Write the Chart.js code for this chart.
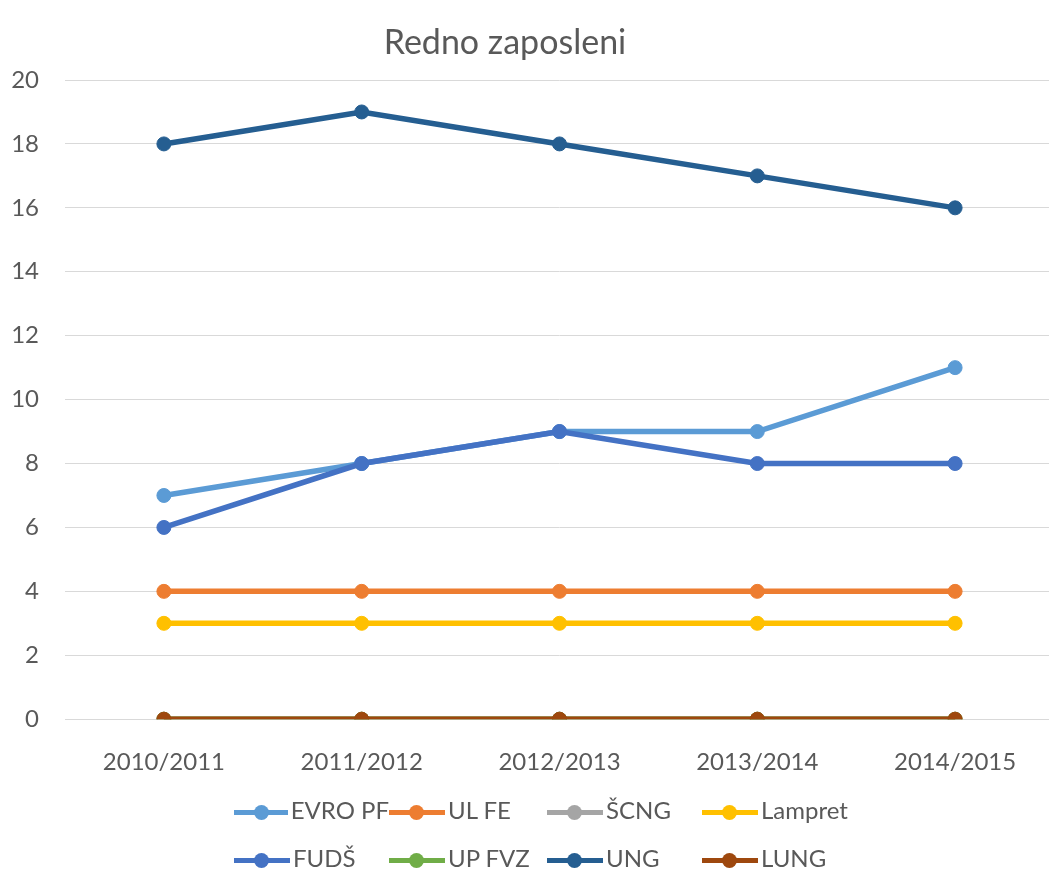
<!DOCTYPE html>
<html>
<head>
<meta charset="utf-8">
<title>Redno zaposleni</title>
<script src="https://cdn.jsdelivr.net/npm/chart.js@4.4.1/dist/chart.umd.min.js"></script>
<style>
  body { margin: 0; overflow: hidden; background: #fff; font-family: Lato, "Noto Sans", sans-serif; }
  #wrap { position: relative; width: 1062px; height: 871px; }
  #title {
    position: absolute; left: 0; top: 21px; width: 1010px;
    text-align: center; font-size: 34px; line-height: 1.2; color: #595959;
  }
  #legend {
    position: absolute; left: 234px; top: 796px;
    display: grid; grid-template-columns: 155px 158px 155px auto;
    row-gap: 19px;
  }
  .item { display: flex; align-items: center; height: 29px; font-size: 24px; line-height: 1.2; color: #595959; white-space: nowrap; }
  .mark { position: relative; width: 56px; height: 15px; margin-top: 4px; }
  .mark .ln { position: absolute; left: 0; right: 0; top: 5px; height: 5px; }
  .mark .dot { position: absolute; left: 20px; top: 0; width: 15px; height: 15px; border-radius: 50%; }
  .item span.txt { margin-left: 3px; }
</style>
</head>
<body>
<div id="wrap">
  <canvas id="chart" width="1062" height="871"></canvas>
  <div id="title">Redno zaposleni</div>
  <div id="legend"></div>
</div>
<script>
// podatki
let categories = ['2010/2011', '2011/2012', '2012/2013', '2013/2014', '2014/2015']
let evroPf  = [7, 8, 9, 9, 11]
let ulFe    = [4, 4, 4, 4, 4]
let scng    = [0, 0, 0, 0, 0]
let lampret = [3, 3, 3, 3, 3]
let fuds    = [6, 8, 9, 8, 8]
let upFvz   = [0, 0, 0, 0, 0]
let ung     = [18, 19, 18, 17, 16]
let lung    = [0, 0, 0, 0, 0]

let seriesNames  = ['EVRO PF', 'UL FE', 'ŠCNG', 'Lampret', 'FUDŠ', 'UP FVZ', 'UNG', 'LUNG']
let seriesValues = [evroPf, ulFe, scng, lampret, fuds, upFvz, ung, lung]
let seriesColors = ['#5B9BD5', '#ED7D31', '#A5A5A5', '#FFC000', '#4472C4', '#70AD47', '#255E91', '#9E480E']

let yMin = 0
let yMax = 20
let yStep = 2

let textColor = '#595959'
let fontFamily = 'Lato, "Noto Sans", sans-serif'

let datasets = seriesNames.map((name, i) => ({
    label: name,
    data: seriesValues[i],
    borderColor: seriesColors[i],
    backgroundColor: seriesColors[i],
    pointBackgroundColor: seriesColors[i],
    pointBorderColor: seriesColors[i],
    borderWidth: 5.5,
    pointRadius: 7,
    pointBorderWidth: 1,
    tension: 0,
    fill: false,
    order: seriesNames.length - i // kasnejše serije rišemo na vrhu, kot v Excelu
}))

new Chart(document.getElementById('chart').getContext('2d'), {
    type: 'line',
    data: { labels: categories, datasets: datasets },
    options: {
        responsive: false,
        animation: false,
        events: [],
        layout: { padding: { top: 80, right: 1, bottom: 73, left: 0 } },
        plugins: {
            legend: { display: false },
            title: { display: false },
            tooltip: { enabled: false }
        },
        scales: {
            x: {
                offset: true,
                grid: { display: false },
                border: { display: false },
                ticks: {
                    color: textColor,
                    font: { family: fontFamily, size: 24 },
                    padding: 21,
                    maxRotation: 0
                }
            },
            y: {
                min: yMin,
                max: yMax,
                afterFit: (s) => { s.width = 65 },
                grid: { color: '#D9D9D9', lineWidth: 1, drawTicks: false },
                border: { display: false },
                ticks: {
                    stepSize: yStep,
                    color: textColor,
                    font: { family: fontFamily, size: 24 },
                    padding: 26
                }
            }
        }
    }
})

// legenda (HTML) iz istih podatkov
let legend = document.getElementById('legend')
seriesNames.forEach((name, i) => {
    let item = document.createElement('div')
    item.classList.add('item')
    item.innerHTML = `
        <div class="mark">
            <div class="ln" style="background:${seriesColors[i]}"></div>
            <div class="dot" style="background:${seriesColors[i]}"></div>
        </div>
        <span class="txt">${name}</span>`
    legend.appendChild(item)
})
</script>
</body>
</html>
